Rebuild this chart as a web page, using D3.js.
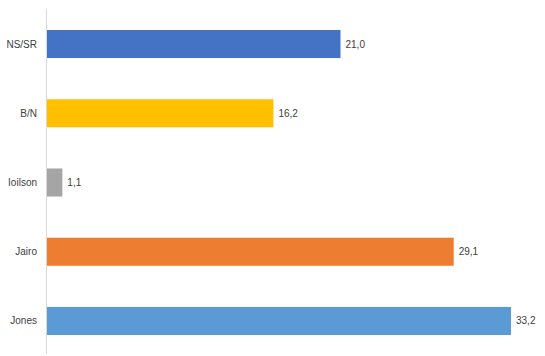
<!DOCTYPE html>
<html><head><meta charset="utf-8">
<script src="https://cdn.jsdelivr.net/npm/d3@7"></script>
<style>body{margin:0;background:#fff}</style>
</head><body>
<script>
const categories = ["NS/SR", "B/N", "Ioilson", "Jairo", "Jones"];
const values = [21.0, 16.2, 1.1, 29.1, 33.2];
const colors = ["#4472C4", "#FFC000", "#A5A5A5", "#ED7D31", "#5B9BD5"];
const valueLabels = ["21,0", "16,2", "1,1", "29,1", "33,2"];

const W = 545, H = 356;
const svg = d3.select("body").append("svg").attr("width", W).attr("height", H);
const x = d3.scaleLinear().domain([0, 33.2]).range([47, 511]);
const y = d3.scaleBand().domain(categories).range([9.4, 355.6]).paddingInner(0.595).paddingOuter(0.2975);

svg.append("line").attr("x1", 46.5).attr("x2", 46.5).attr("y1", 9).attr("y2", 354)
  .attr("stroke", "#D9D9D9").attr("stroke-width", 1);

svg.selectAll("rect.bar").data(categories).join("rect").attr("class","bar")
  .attr("x", x(0)).attr("y", d => y(d)).attr("width", (d,i) => x(values[i]) - x(0))
  .attr("height", y.bandwidth()).attr("fill", (d,i) => colors[i]);

svg.selectAll("text.cat").data(categories).join("text").attr("class","cat")
  .attr("x", 37).attr("y", d => y(d) + y.bandwidth()/2).attr("dy", "0.35em")
  .attr("text-anchor", "end").attr("font-family", "Liberation Sans, Arial, sans-serif")
  .attr("font-size", 10).attr("fill", "#404040").text(d => d);

svg.selectAll("text.val").data(categories).join("text").attr("class","val")
  .attr("x", (d,i) => x(values[i]) + 5).attr("y", d => y(d) + y.bandwidth()/2).attr("dy", "0.35em")
  .attr("font-family", "Liberation Sans, Arial, sans-serif")
  .attr("font-size", 10).attr("fill", "#404040").text((d,i) => valueLabels[i]);
</script>
</body></html>
